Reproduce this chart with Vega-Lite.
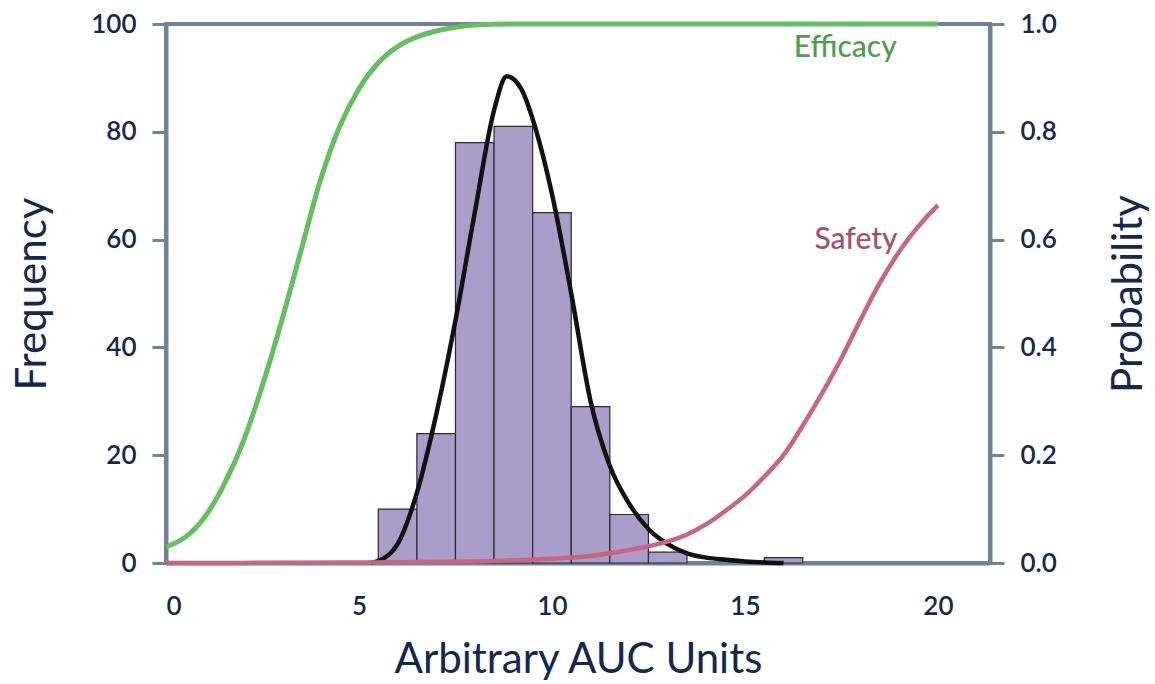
{
  "$schema": "https://vega.github.io/schema/vega-lite/v6.json",
  "width": 824,
  "height": 539,
  "autosize": "none",
  "padding": {"left": 166, "top": 24, "right": 165, "bottom": 121},
  "background": "white",
  "config": {
    "font": "Lato",
    "view": {"stroke": "#6e8299", "strokeWidth": 4},
    "axis": {
      "domainColor": "#6e8299",
      "domainWidth": 4,
      "tickColor": "#6e8299",
      "tickWidth": 3,
      "tickSize": 14,
      "labelColor": "#14284f",
      "labelFont": "Lato",
      "labelFontSize": 26,
      "labelFontWeight": 600,
      "titleColor": "#14284f",
      "titleFont": "Lato",
      "titleFontSize": 42,
      "titleFontWeight": "normal",
      "grid": false
    }
  },
  "datasets": {
    "bins": [
      {"x0": 5.5, "x1": 6.5, "count": 10},
      {"x0": 6.5, "x1": 7.5, "count": 24},
      {"x0": 7.5, "x1": 8.5, "count": 78},
      {"x0": 8.5, "x1": 9.5, "count": 81},
      {"x0": 9.5, "x1": 10.5, "count": 65},
      {"x0": 10.5, "x1": 11.5, "count": 29},
      {"x0": 11.5, "x1": 12.5, "count": 9},
      {"x0": 12.5, "x1": 13.5, "count": 2},
      {"x0": 15.5, "x1": 16.5, "count": 1}
    ],
    "fit": [
      {"x": 5.3, "f": 0},
      {"x": 5.6, "f": 0.7},
      {"x": 6.0, "f": 3.5},
      {"x": 6.5, "f": 13},
      {"x": 7.0, "f": 27.5},
      {"x": 7.5, "f": 45},
      {"x": 8.0, "f": 65},
      {"x": 8.5, "f": 84},
      {"x": 8.83, "f": 90.3},
      {"x": 9.2, "f": 88},
      {"x": 9.6, "f": 80},
      {"x": 10.0, "f": 68.5},
      {"x": 10.5, "f": 50},
      {"x": 11.0, "f": 30},
      {"x": 11.5, "f": 18},
      {"x": 12.0, "f": 11},
      {"x": 12.5, "f": 6.3},
      {"x": 13.0, "f": 3.5},
      {"x": 13.5, "f": 1.8},
      {"x": 14.0, "f": 1.0},
      {"x": 14.5, "f": 0.6},
      {"x": 15.0, "f": 0.3},
      {"x": 15.5, "f": 0.1},
      {"x": 16.0, "f": 0}
    ],
    "efficacy": [
      {"x": 0, "p": 0.03},
      {"x": 0.5, "p": 0.048},
      {"x": 1.0, "p": 0.085},
      {"x": 1.5, "p": 0.145},
      {"x": 2.0, "p": 0.225},
      {"x": 2.5, "p": 0.33},
      {"x": 3.0, "p": 0.45},
      {"x": 3.5, "p": 0.58},
      {"x": 4.0, "p": 0.71},
      {"x": 4.5, "p": 0.81},
      {"x": 5.0, "p": 0.88},
      {"x": 5.5, "p": 0.928},
      {"x": 6.0, "p": 0.958},
      {"x": 6.5, "p": 0.976},
      {"x": 7.0, "p": 0.987},
      {"x": 7.5, "p": 0.994},
      {"x": 8.0, "p": 0.998},
      {"x": 9.0, "p": 1.0},
      {"x": 20.0, "p": 1.0}
    ],
    "safety": [
      {"x": 0, "p": 0.0},
      {"x": 5.0, "p": 0.001},
      {"x": 8.0, "p": 0.003},
      {"x": 9.0, "p": 0.005},
      {"x": 10.0, "p": 0.008},
      {"x": 11.0, "p": 0.013},
      {"x": 12.0, "p": 0.024},
      {"x": 13.0, "p": 0.04},
      {"x": 13.5, "p": 0.053},
      {"x": 14.0, "p": 0.072},
      {"x": 14.5, "p": 0.097},
      {"x": 15.0, "p": 0.125},
      {"x": 15.5, "p": 0.16},
      {"x": 16.0, "p": 0.2},
      {"x": 16.5, "p": 0.255},
      {"x": 17.0, "p": 0.315},
      {"x": 17.5, "p": 0.38},
      {"x": 18.0, "p": 0.452},
      {"x": 18.5, "p": 0.52},
      {"x": 19.0, "p": 0.578},
      {"x": 19.5, "p": 0.625},
      {"x": 20.0, "p": 0.664}
    ],
    "labels": [
      {"label": "Efficacy", "x": 17.6, "y": 95.5, "series": "Efficacy"},
      {"label": "Safety", "x": 17.88, "y": 60, "series": "Safety"}
    ]
  },
  "layer": [
    {
      "layer": [
        {
          "data": {"name": "bins"},
          "mark": {"type": "rect", "fill": "#a99dc9", "stroke": "#2b2838", "strokeWidth": 1.2},
          "encoding": {
            "x": {
              "field": "x0", "type": "quantitative",
              "scale": {"domain": [0, 21.35], "nice": false, "zero": false},
              "axis": {
                "title": "Arbitrary AUC Units",
                "values": [0, 5, 10, 15, 20],
                "ticks": false,
                "labelPadding": 30,
                "titlePadding": 20
              }
            },
            "x2": {"field": "x1"},
            "y": {
              "field": "count", "type": "quantitative",
              "scale": {"domain": [0, 100], "nice": false},
              "axis": {
                "orient": "left",
                "title": "Frequency",
                "values": [0, 20, 40, 60, 80, 100],
                "labelPadding": 16,
                "titlePadding": 36
              }
            },
            "y2": {"datum": 0}
          }
        },
        {
          "data": {"name": "fit"},
          "mark": {"type": "line", "color": "#111111", "strokeWidth": 4.5, "interpolate": "monotone"},
          "encoding": {
            "x": {"field": "x", "type": "quantitative", "title": "Arbitrary AUC Units"},
            "y": {"field": "f", "type": "quantitative", "title": "Frequency"}
          }
        },
        {
          "data": {"name": "labels"},
          "mark": {"type": "text", "fontSize": 30, "fontWeight": 500, "font": "Lato", "align": "center", "baseline": "middle"},
          "encoding": {
            "x": {"field": "x", "type": "quantitative", "title": "Arbitrary AUC Units"},
            "y": {"field": "y", "type": "quantitative", "title": "Frequency"},
            "text": {"field": "label"},
            "color": {
              "field": "series", "type": "nominal",
              "scale": {"domain": ["Efficacy", "Safety"], "range": ["#4f9e4c", "#a3506b"]},
              "legend": null
            }
          }
        }
      ]
    },
    {
      "layer": [
        {
          "data": {"name": "safety"},
          "mark": {"type": "line", "color": "#c8657f", "strokeWidth": 4.5, "interpolate": "monotone"},
          "encoding": {
            "x": {"field": "x", "type": "quantitative", "title": "Arbitrary AUC Units"},
            "y": {
              "field": "p", "type": "quantitative",
              "scale": {"domain": [0, 1], "nice": false},
              "axis": {
                "orient": "right",
                "title": "Probability",
                "values": [0, 0.2, 0.4, 0.6, 0.8, 1.0],
                "format": ".1f",
                "labelPadding": 16,
                "titleAngle": 270,
                "titlePadding": 94
              }
            }
          }
        },
        {
          "data": {"name": "efficacy"},
          "mark": {"type": "line", "color": "#64bf5f", "strokeWidth": 5, "interpolate": "monotone"},
          "encoding": {
            "x": {"field": "x", "type": "quantitative", "title": "Arbitrary AUC Units"},
            "y": {"field": "p", "type": "quantitative", "title": "Probability"}
          }
        }
      ]
    }
  ],
  "resolve": {"scale": {"y": "independent"}}
}
